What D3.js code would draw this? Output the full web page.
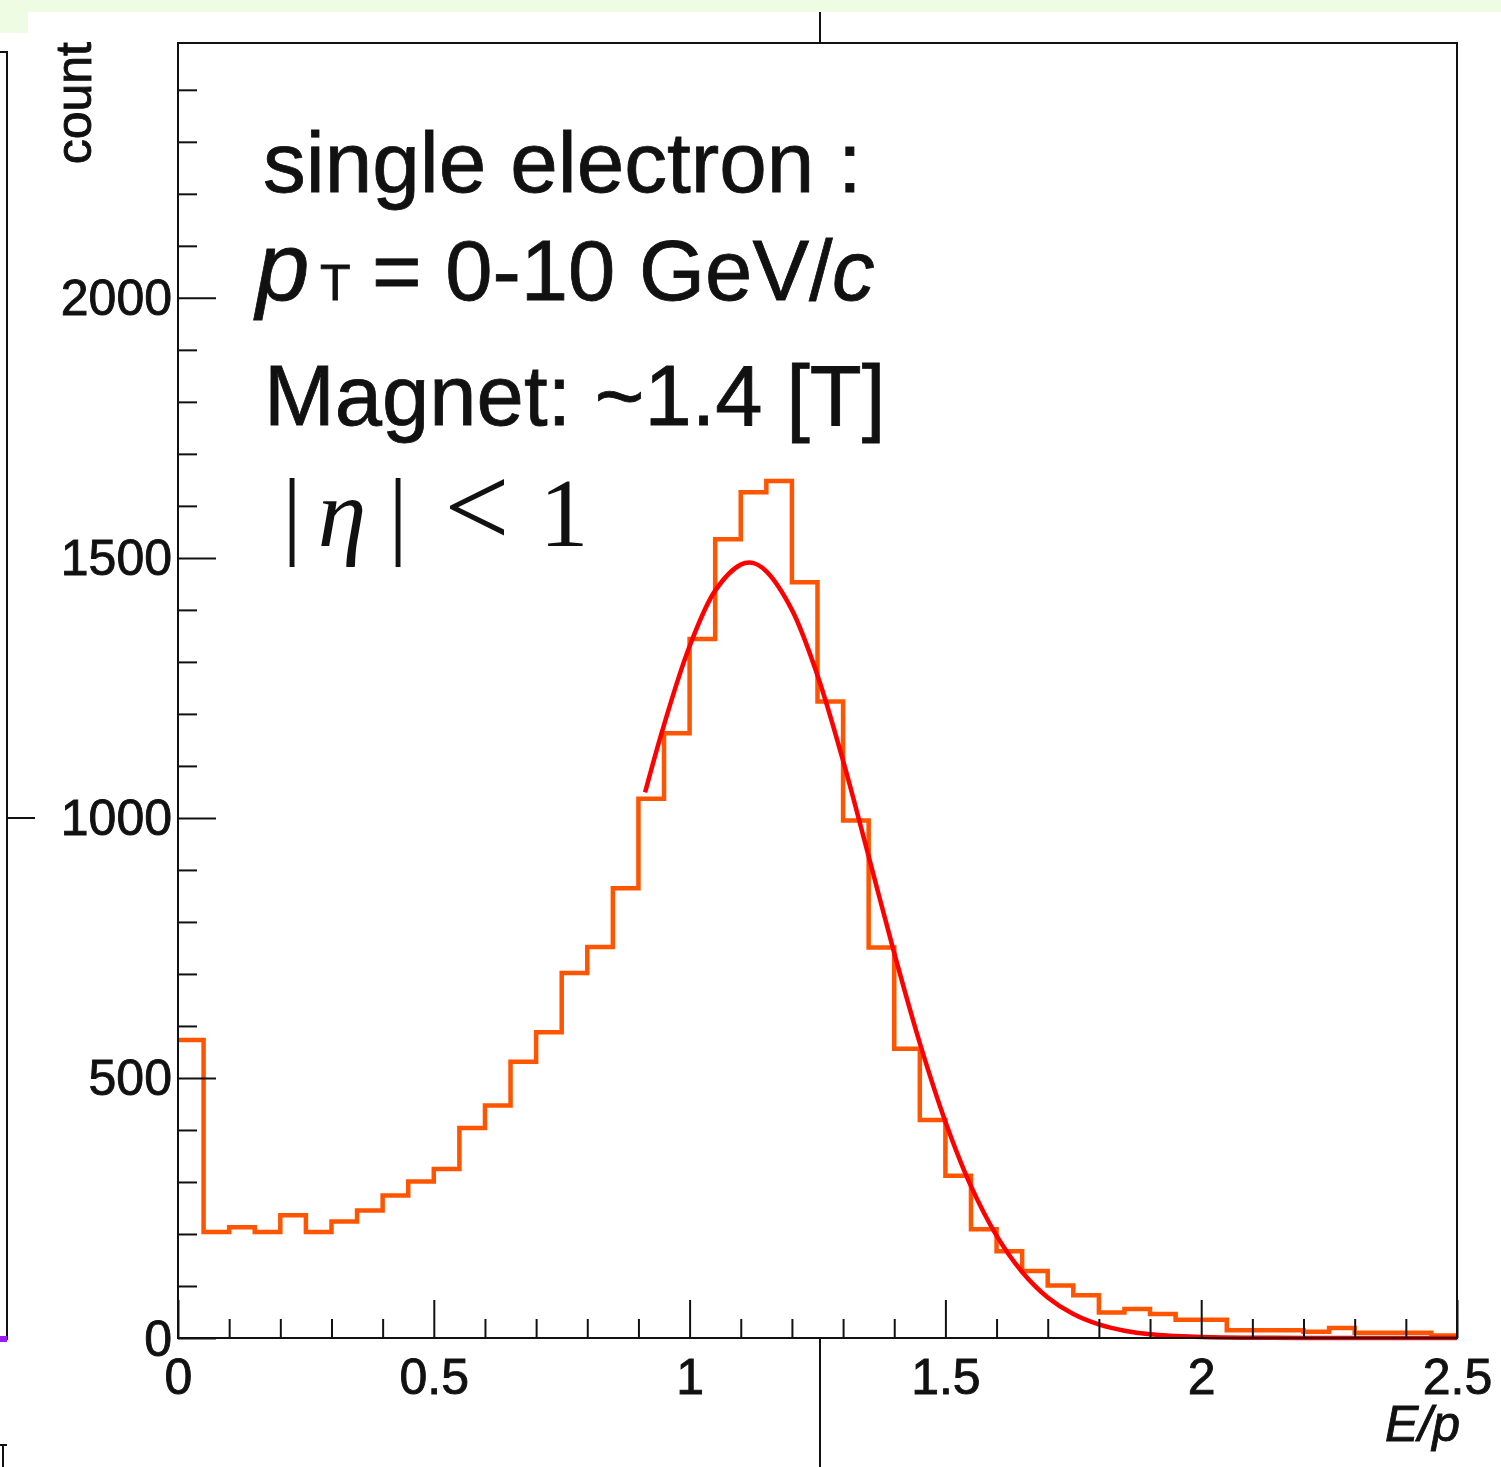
<!DOCTYPE html>
<html>
<head>
<meta charset="utf-8">
<script src="https://cdn.jsdelivr.net/npm/d3@7"></script>
<style>
  html, body { margin: 0; padding: 0; background: #ffffff; }
  svg { display: block; }
</style>
</head>
<body>
<script>
// ---------------- data ----------------
const binLow = 0;
const binWidth = 0.05;
const counts = [573, 204, 213, 204, 236, 204, 224, 245, 274, 301,
                325, 404, 447, 531, 588, 702, 752, 865, 1037, 1163,
                1344, 1536, 1626, 1648, 1453, 1224, 995, 751, 556, 419,
                312, 209, 167, 129, 101, 82, 49, 56, 46, 35,
                35, 15, 15, 15, 12, 19, 10, 10, 10, 5];
const fitX = [0.913, 0.95, 1.0, 1.05, 1.1, 1.125, 1.15, 1.2, 1.25, 1.3, 1.35,
              1.4, 1.45, 1.5, 1.55, 1.6, 1.65, 1.7, 1.75, 1.8, 1.85,
              1.9, 1.95, 2.0, 2.1, 2.2, 2.3, 2.4, 2.5];
const fitY = [1049, 1179, 1330, 1437, 1487, 1490, 1474, 1400, 1274, 1110, 926,
              740, 567, 416, 292, 197, 127, 78, 46, 26, 14,
              7, 4, 2, 0.5, 0.2, 0.1, 0.1, 0.1];
const xMajorTicks = [0, 0.5, 1, 1.5, 2, 2.5];
const xTickLabels = ["0", "0.5", "1", "1.5", "2", "2.5"];
const xMinorTicks = [0.1,0.2,0.3,0.4,0.6,0.7,0.8,0.9,1.1,1.2,1.3,1.4,1.6,1.7,1.8,1.9,2.1,2.2,2.3,2.4];
const yMajorTicks = [0, 500, 1000, 1500, 2000];
const yTickLabels = ["0", "500", "1000", "1500", "2000"];
const yMinorTicks = [100,200,300,400,600,700,800,900,1100,1200,1300,1400,1600,1700,1800,1900,2100,2200,2300,2400];
const xDomain = [0, 2.5];
const yDomain = [0, 2490];

// ---------------- layout ----------------
const W = 1501, H = 1467;
const L = 178, R = 1457, T = 43, B = 1338;
const sans = "'Liberation Sans', Arial, Helvetica, sans-serif";
const serif = "'Liberation Serif', 'Times New Roman', serif";
const ink = "#111111";

const svg = d3.select("body").append("svg")
  .attr("width", W).attr("height", H)
  .attr("viewBox", `0 0 ${W} ${H}`);

svg.append("rect").attr("x", 0).attr("y", 0).attr("width", W).attr("height", H).attr("fill", "#ffffff");

// screenshot surroundings
svg.append("rect").attr("x", 0).attr("y", 0).attr("width", W).attr("height", 12).attr("fill", "#edfce2");
svg.append("rect").attr("x", 0).attr("y", 12).attr("width", 28).attr("height", 21).attr("fill", "#edfce2");
svg.append("line").attr("x1", 820).attr("x2", 820).attr("y1", 12).attr("y2", T).attr("stroke", ink).attr("stroke-width", 2);
svg.append("line").attr("x1", 820).attr("x2", 820).attr("y1", B).attr("y2", H).attr("stroke", ink).attr("stroke-width", 2);
// partial neighbouring panel at the left edge
svg.append("path").attr("d", "M0,52 H7 V1340").attr("fill", "none").attr("stroke", ink).attr("stroke-width", 2);
svg.append("line").attr("x1", 7).attr("x2", 35).attr("y1", 818).attr("y2", 818).attr("stroke", ink).attr("stroke-width", 2);
svg.append("rect").attr("x", 0).attr("y", 1336).attr("width", 7).attr("height", 6).attr("fill", "#9b1cf0");
svg.append("path").attr("d", "M0,1445 H7 M3,1445 V1467").attr("fill", "none").attr("stroke", ink).attr("stroke-width", 2);

const x = d3.scaleLinear().domain(xDomain).range([L, R]);
const y = d3.scaleLinear().domain(yDomain).range([B, T]);

// ---------------- histogram ----------------
const stepPts = [];
counts.forEach((c, i) => {
  const x0 = binLow + i * binWidth, x1 = x0 + binWidth;
  stepPts.push([x0, c], [x1, c]);
});
const line = d3.line().x(d => x(d[0])).y(d => y(d[1]));
svg.append("path")
  .attr("d", line(stepPts))
  .attr("fill", "none")
  .attr("stroke", "#ff5500")
  .attr("stroke-width", 4.5)
  .attr("stroke-linejoin", "miter");

// ---------------- fit ----------------
const fitPts = fitX.map((v, i) => [v, fitY[i]]);
svg.append("path")
  .attr("d", d3.line().x(d => x(d[0])).y(d => y(d[1])).curve(d3.curveCatmullRom.alpha(0.5))(fitPts))
  .attr("fill", "none")
  .attr("stroke", "#ff0000")
  .attr("stroke-width", 4.5)
  .attr("stroke-linejoin", "round");

// ---------------- axes ----------------
const xAxisMajor = d3.axisBottom(x).tickValues(xMajorTicks).tickSize(-38).tickPadding(20)
  .tickFormat((d, i) => xTickLabels[i]);
const gx = svg.append("g").attr("transform", `translate(0,${B})`).call(xAxisMajor);
const xAxisMinor = d3.axisBottom(x).tickValues(xMinorTicks).tickSize(-19).tickFormat("");
const gx2 = svg.append("g").attr("transform", `translate(0,${B})`).call(xAxisMinor);

const yAxisMajor = d3.axisLeft(y).tickValues(yMajorTicks).tickSize(-38).tickPadding(6)
  .tickFormat((d, i) => yTickLabels[i]);
const gy = svg.append("g").attr("transform", `translate(${L},0)`).call(yAxisMajor);
const yAxisMinor = d3.axisLeft(y).tickValues(yMinorTicks).tickSize(-19).tickFormat("");
const gy2 = svg.append("g").attr("transform", `translate(${L},0)`).call(yAxisMinor);

[gx, gx2, gy, gy2].forEach(g => {
  g.select(".domain").remove();
  g.selectAll(".tick line").attr("stroke", ink).attr("stroke-width", 2);
  g.selectAll("text").attr("font-family", sans).attr("font-size", 50).attr("fill", ink)
    .attr("stroke", ink).attr("stroke-width", 0.9);
});
gy.selectAll("text").attr("dy", "0.34em");

// frame
svg.append("rect").attr("x", L).attr("y", T).attr("width", R - L).attr("height", B - T)
  .attr("fill", "none").attr("stroke", ink).attr("stroke-width", 2);

// axis titles
svg.append("text").attr("x", 1460).attr("y", 1441).attr("text-anchor", "end")
  .attr("font-family", sans).attr("font-size", 50).attr("font-style", "italic").attr("fill", ink)
  .attr("stroke", ink).attr("stroke-width", 0.9)
  .text("E/p");
svg.append("text").attr("transform", "translate(91,42) rotate(-90)").attr("text-anchor", "end")
  .attr("font-family", sans).attr("font-size", 50).attr("fill", ink)
  .attr("stroke", ink).attr("stroke-width", 0.9)
  .text("count");

// ---------------- annotation ----------------
const ann = svg.append("g").attr("fill", ink).attr("font-family", sans)
  .attr("stroke", ink).attr("stroke-width", 0.8);
ann.append("text").attr("x", 263).attr("y", 192).attr("font-size", 85.5).text("single electron :");

const l2 = ann.append("text").attr("y", 300).attr("font-size", 85);
l2.append("tspan").attr("x", 256).attr("font-size", 96).attr("font-style", "italic").text("p");
l2.append("tspan").attr("x", 320).attr("font-size", 50).text("T");
l2.append("tspan").attr("x", 372).text("= 0-10 GeV/");
l2.append("tspan").attr("x", 832).attr("font-style", "italic").text("c");

ann.append("text").attr("x", 264).attr("y", 425).attr("font-size", 85).text("Magnet: ~1.4 [T]");

const l4 = svg.append("g").attr("fill", ink).attr("font-family", serif).attr("font-size", 98).attr("text-anchor", "middle");
l4.append("text").attr("x", 292).attr("y", 546).text("|");
l4.append("text").attr("x", 342).attr("y", 546).attr("font-style", "italic").text("η");
l4.append("text").attr("x", 398).attr("y", 546).text("|");
l4.append("text").attr("x", 477).attr("y", 546).attr("font-size", 116).text("<");
l4.append("text").attr("x", 564).attr("y", 546).text("1");
</script>
</body>
</html>
